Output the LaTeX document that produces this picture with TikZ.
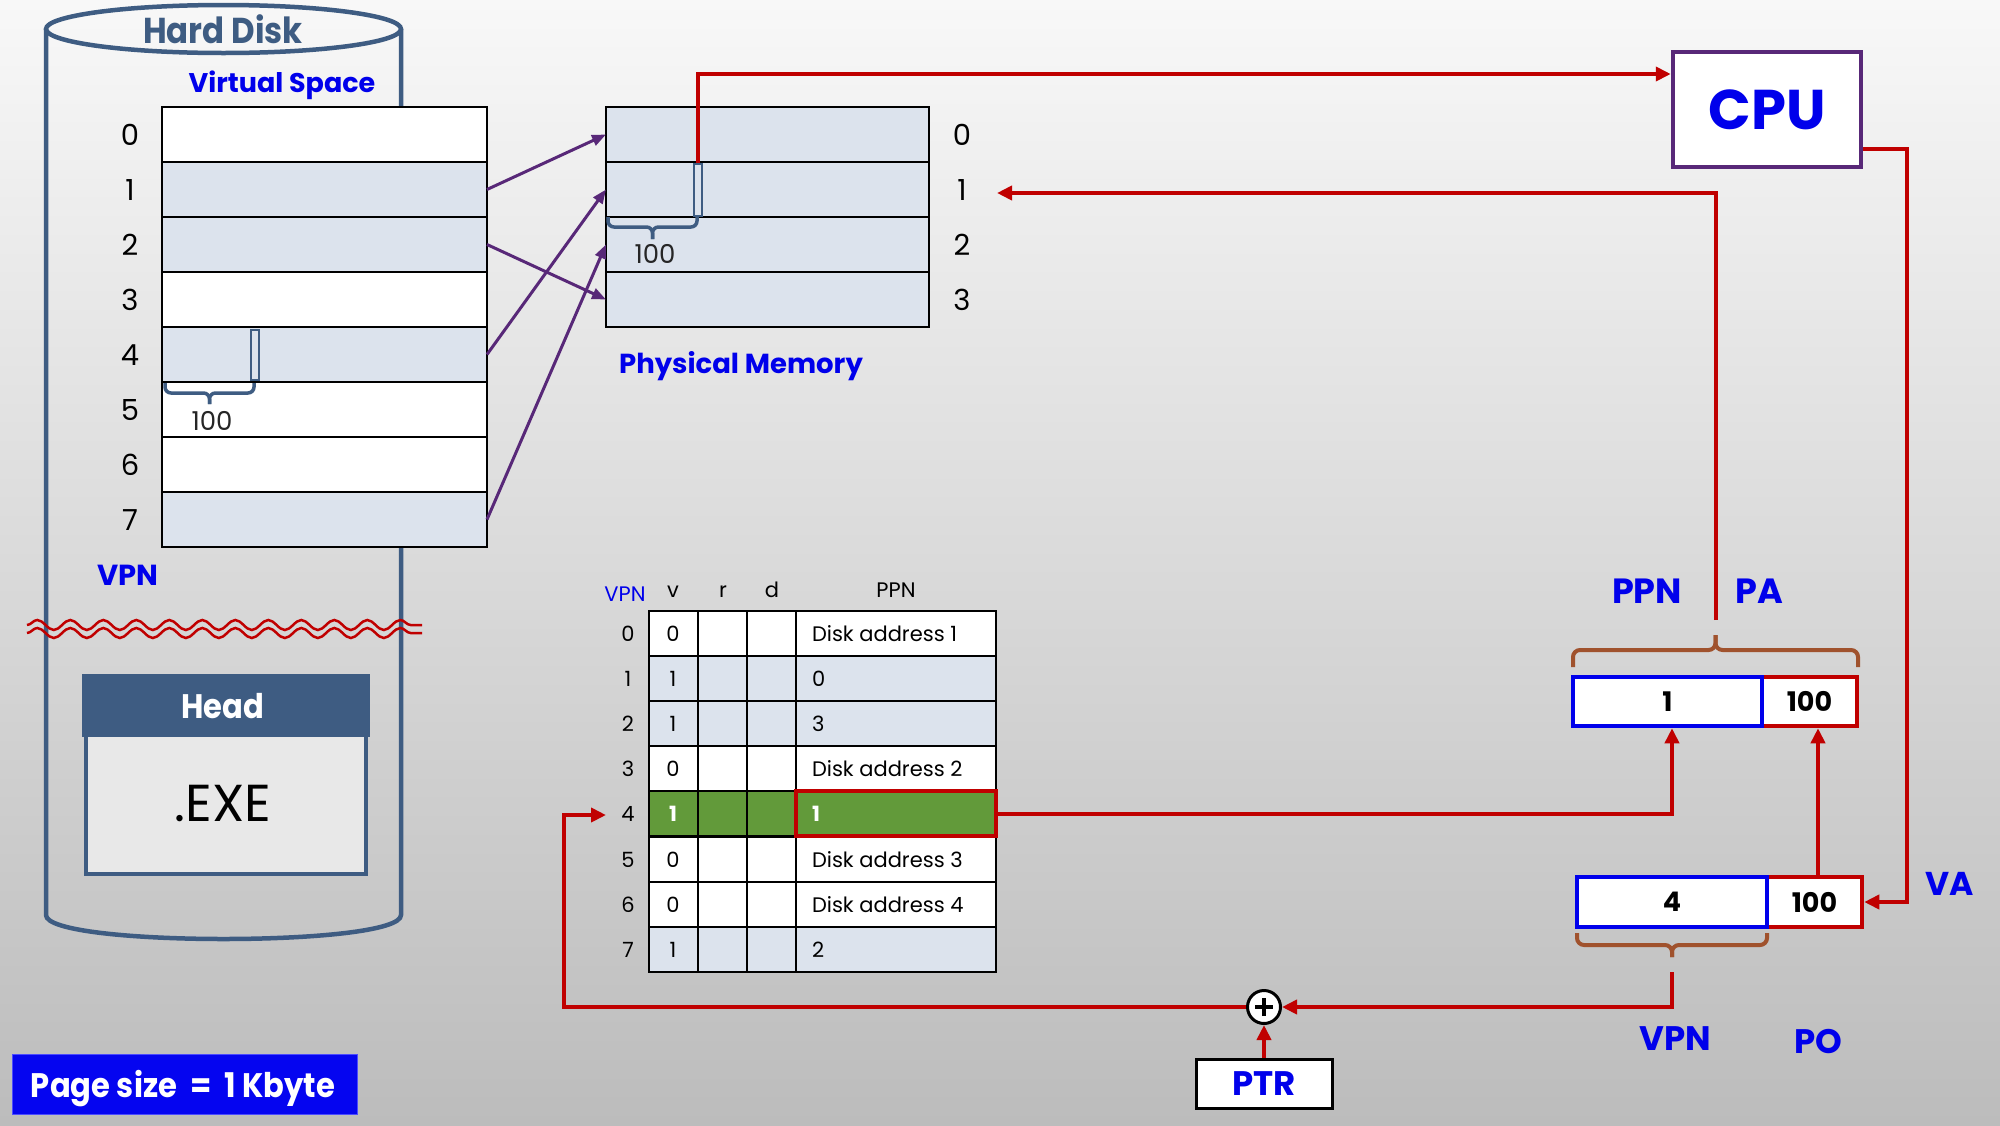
\documentclass[tikz,border=0pt]{standalone}
\usepackage{fontspec}
\setmainfont{Poppins}
\newfontfamily\condf{Poppins}[FakeStretch=0.9]
\usetikzlibrary{arrows.meta,decorations.pathmorphing,calc}
\definecolor{steel}{RGB}{62,92,130}
\definecolor{lightbl}{RGB}{220,227,237}
\definecolor{tblue}{RGB}{0,0,235}
\definecolor{myred}{RGB}{192,0,0}
\definecolor{mypurple}{RGB}{88,40,120}
\definecolor{mybrown}{RGB}{160,82,45}
\definecolor{mygreen}{RGB}{98,154,58}
\definecolor{exegray}{RGB}{232,232,232}
\definecolor{bgtop}{RGB}{248,248,248}
\definecolor{bgmid}{RGB}{228,228,228}
\definecolor{bgbot}{RGB}{188,188,188}
\definecolor{pgblue}{RGB}{5,5,240}
\newcommand\mybrace[6]{%
  \draw[#1] (#2,#4) -- (#2,#5) -- ({(#2+#3)/2},#5) -- ({(#2+#3)/2},#6);
  \draw[#1] (#3,#4) -- (#3,#5) -- ({(#2+#3)/2},#5) -- ({(#2+#3)/2},#6);}
\begin{document}
\begin{tikzpicture}[x=1pt,y=-1pt,
  txt/.style={inner sep=0pt, outer sep=0pt, anchor=base},
  bluebold/.style={txt, text=tblue, font=\bfseries\fontsize{#1}{#1}\selectfont},
  condbold/.style={txt, font=\condf\bfseries\fontsize{#1}{#1}\selectfont},
  reg/.style={txt, font=\fontsize{#1}{#1}\selectfont},
  cell/.style={draw=black, line width=2pt, inner sep=0pt, outer sep=0pt, anchor=north west},
  vscell/.style={cell, minimum width=325pt, minimum height=55pt},
  pmcell/.style={cell, fill=lightbl, minimum width=323pt, minimum height=55pt},
  ptcell/.style={cell, minimum width=49pt, minimum height=45pt},
  ptwide/.style={cell, minimum width=200pt, minimum height=45pt},
  marker/.style={draw=steel, line width=2pt, fill=lightbl, inner sep=0pt, minimum width=8pt},
  cyl/.style={draw=steel, line width=4.5pt},
  wavy/.style={draw=myred, line width=2.5pt, decorate, decoration={snake, segment length=33pt, amplitude=5pt}},
  sbrace/.style={draw=steel, line width=3.5pt, rounded corners=6pt},
  bbrace/.style={draw=mybrown, line width=4pt, rounded corners=7pt},
  parrow/.style={draw=mypurple, line width=3pt, -{Triangle[length=14pt,width=11pt]}},
  redline/.style={draw=myred, line width=4pt},
  redarrow/.style={redline, -{Triangle[length=15pt,width=14pt]}},
  abox/.style={draw, line width=4.5pt, fill=white, inner sep=0pt, minimum height=49pt, font=\bfseries\fontsize{27}{27}\selectfont}
]
\useasboundingbox (0,0) rectangle (2000,1125);
\shade[top color=bgtop, middle color=bgmid, bottom color=bgbot] (0,0) rectangle (2000,1125);

% ---------- hard disk cylinder ----------
\draw[cyl] (46,29) -- (46,915) .. controls (46,947) and (401,947) .. (401,915) -- (401,29);
\draw[cyl] (223.5,29) ellipse [x radius=177.5, y radius=24];
\node[condbold=36, text=steel] (hd) at (223,43) {Hard Disk};
\node[bluebold=27] (vslabel) at (282,92) {Virtual Space};

% wavy break
\draw[wavy] (27,625) -- (422,625);
\draw[wavy] (27,633) -- (422,633);

% head / exe
\node[draw=steel, line width=4pt, fill=exegray, minimum width=280pt, minimum height=196pt, inner sep=0pt, anchor=north west] (exe) at (83.5,675.5) {};
\fill[steel] ($(exe.north west)+(-2,-2)$) rectangle ($(exe.north east)+(2,61.5)$);
\node[condbold=34, text=white] (headtxt) at (223,718) {Head};
\node[reg=52] (exetxt) at (223,821) {.EXE};

% ---------- virtual space ----------
\foreach \i/\f in {0/white,1/lightbl,2/lightbl,3/white,4/lightbl,5/white,6/white,7/lightbl}{
  \node[vscell, fill=\f] (vs\i) at (162,{107+55*\i}) {};
  \node[reg=29] (vsl\i) at (130,{145+55*\i}) {\i};
}
\node[bluebold=29] (vpnl) at (128,585) {VPN};
\node[marker, minimum height=50pt] (vsmark) at (254.5,355) {};
\mybrace{sbrace}{165}{254}{383}{393}{404}
\node[reg=26, text=black!85] (vs100) at (212,430) {100};

% ---------- physical memory ----------
\foreach \i in {0,1,2,3}{
  \node[pmcell] (pm\i) at (606,{107+55*\i}) {};
  \node[reg=29] (pml\i) at (962,{145+55*\i}) {\i};
}
\node[marker, minimum height=52pt] (pmmark) at (698,190) {};
\mybrace{sbrace}{608}{697}{217}{227}{239}
\node[reg=26, text=black!85] (pm100) at (655,263) {100};
\node[bluebold=27.5] (pmlabel) at (741,373) {Physical Memory};

% purple mapping arrows
\draw[parrow] (vs1.east) -- (pm0.west);
\draw[parrow] (vs2.east) -- (pm3.west);
\draw[parrow] (vs4.east) -- (pm1.west);
\draw[parrow] (vs7.east) -- (pm2.west);

% ---------- page table ----------
\node[reg=21, text=tblue] (pthvpn) at (625,601) {VPN};
\node[reg=21] (pthv) at (673,597) {v};
\node[reg=21] (pthr) at (723,597) {r};
\node[reg=21] (pthd) at (772,597) {d};
\node[reg=21] (pthp) at (896,597) {PPN};
\foreach \i/\v/\f/\p in {0/0/white/Disk address 1,1/1/lightbl/0,2/1/lightbl/3,3/0/white/Disk address 2,5/0/white/Disk address 3,6/0/white/Disk address 4,7/1/lightbl/2}{
  \node[ptcell, fill=\f] (ptv\i) at (649,{611+45.1*\i}) {};
  \node[ptcell, fill=\f] (ptr\i) at (698,{611+45.1*\i}) {};
  \node[ptcell, fill=\f] (ptd\i) at (747,{611+45.1*\i}) {};
  \node[ptwide, fill=\f] (ptp\i) at (796,{611+45.1*\i}) {};
  \node[reg=21] (ptvt\i) at (673,{641.5+45.1*\i}) {\v};
  \node[reg=21] (ptpt\i) at (812,{641.5+45.1*\i}) [anchor=base west] {\p};
}
\node[ptcell, fill=mygreen] (ptv4) at (649,{611+45.1*4}) {};
\node[ptcell, fill=mygreen] (ptr4) at (698,{611+45.1*4}) {};
\node[ptcell, fill=mygreen] (ptd4) at (747,{611+45.1*4}) {};
\node[ptwide, fill=mygreen] (ptp4) at (796,{611+45.1*4}) {};
\draw[myred, line width=4pt] (ptp4.north west) rectangle (ptp4.south east);
\node[txt, text=white, font=\bfseries\fontsize{21}{21}\selectfont] (ptvt4) at (673,{641.5+45.1*4}) {1};
\node[txt, text=white, font=\bfseries\fontsize{21}{21}\selectfont, anchor=base west] (ptpt4) at (812,{641.5+45.1*4}) {1};
\foreach \i in {0,...,7}{
  \node[reg=21] (ptl\i) at (628,{641.5+45.1*\i}) {\i};
}

% ---------- CPU ----------
\node[draw=mypurple, line width=4.5pt, fill=white, minimum width=188pt, minimum height=115pt, inner sep=0pt,
      text=tblue, font=\bfseries\fontsize{56}{56}\selectfont] (cpu) at (1767,109.5) {CPU};

% ---------- address boxes ----------
\node[abox, draw=myred, minimum width=95pt] (papo) at (1809.5,701.5) {100};
\node[abox, draw=tblue, minimum width=189pt] (pappn) at (1667.5,701.5) {1};
\node[abox, draw=myred, minimum width=95pt, minimum height=50pt] (vapo) at (1814.5,902) {100};
\node[abox, draw=tblue, minimum width=190pt, minimum height=50pt] (vappn) at (1672,902) {4};
\mybrace{bbrace}{1573}{1858}{667}{650}{635}
\mybrace{bbrace}{1577}{1767}{933}{945}{957}
\node[bluebold=35] (ppnl) at (1647,603) {PPN};
\node[bluebold=35] (pal) at (1759,603) {PA};
\node[bluebold=33] (val) at (1950,895) {VA};
\node[bluebold=34] (vpnb) at (1675,1050) {VPN};
\node[bluebold=34] (pol) at (1818,1053) {PO};

% ---------- PTR and adder ----------
\node[draw=black, line width=3pt, fill=white, minimum width=136pt, minimum height=49pt, inner sep=0pt,
      text=tblue, font=\bfseries\fontsize{34}{34}\selectfont] (ptr) at (1264,1083.5) {PTR};
\node[circle, draw=black, line width=3pt, fill=white, minimum size=33pt, inner sep=0pt] (plus) at (1264,1007) {};
\draw[line width=3.5pt] ([xshift=-9pt]plus.center) -- ([xshift=9pt]plus.center);
\draw[line width=3.5pt] ([yshift=-9pt]plus.center) -- ([yshift=9pt]plus.center);

% page size
\node[fill=pgblue, draw=blue!70!white, line width=1pt, minimum width=345pt, minimum height=60pt, inner sep=0pt, anchor=north west] (pgbox) at (12,1054) {};
\node[condbold=34, text=white] (pgtxt) at (183,1097) {Page size\ \ =\ \ 1\ Kbyte};

% ---------- red connectors ----------
\coordinate (patop) at (1716,620);
\coordinate (pmin) at (997,193);
\coordinate (vabr) at (1672,972);
\coordinate (ptloop) at (564,815);
\coordinate (ptin) at (606,815);
\draw[redarrow] (pmmark.north) |- ([yshift=35.5pt]cpu.west);
\draw[redarrow] ([yshift=-39.5pt]cpu.east) -- ++(44,0) |- (vapo.east);
\draw[redarrow] (patop) |- (pmin);
\draw[redarrow] (ptp4.east) -| ([xshift=4.5pt]pappn.south);
\draw[redarrow] ([xshift=3.5pt]vapo.north) -- ([xshift=3.5pt]vapo.north |- papo.south);
\draw[redarrow] (vabr) |- (plus.east);
\draw[redarrow] (ptr.north) -- (plus.south);
\draw[redarrow] (plus.west) -| (ptloop) -- (ptin);
\end{tikzpicture}
\end{document}
